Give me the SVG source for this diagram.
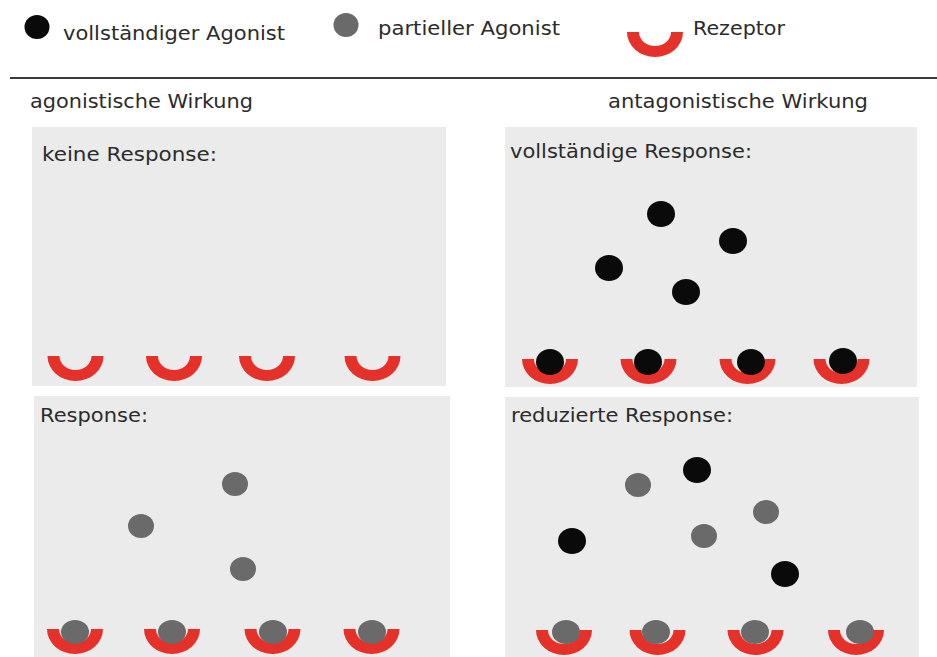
<svg xmlns="http://www.w3.org/2000/svg" xmlns:xlink="http://www.w3.org/1999/xlink" width="937" height="657" viewBox="0 0 937 657">
<style>
  .t { font-family: "DejaVu Sans", Verdana, sans-serif; font-size: 19px; fill: #2b2b2b; }
  .panel { fill: #ebebeb; }
  .full { fill: #0a0a0a; }
  .part { fill: #6a6a6a; }
  .rez { fill: #e5312a; }
</style>
<defs>
  <path id="rezeptor" class="rez" d="M -28 0 A 28 25 0 0 0 28 0 L 16 0 A 16 14 0 0 1 -16 0 Z"/>
</defs>
<rect width="937" height="657" fill="#ffffff"/>

<g id="legende">
  <g id="legende-voll">
    <ellipse class="full" cx="37" cy="27" rx="12.5" ry="12"/>
    <text class="t" x="63" y="40" textLength="222" lengthAdjust="spacingAndGlyphs">vollständiger Agonist</text>
  </g>
  <g id="legende-partiell">
    <ellipse class="part" cx="346" cy="25" rx="12.5" ry="12"/>
    <text class="t" x="378" y="35" textLength="182" lengthAdjust="spacingAndGlyphs">partieller Agonist</text>
  </g>
  <g id="legende-rezeptor">
    <use xlink:href="#rezeptor" href="#rezeptor" x="655" y="32"/>
    <text class="t" x="693" y="35" textLength="92" lengthAdjust="spacingAndGlyphs">Rezeptor</text>
  </g>
</g>

<line x1="10" y1="78" x2="937" y2="78" stroke="#3a3a3a" stroke-width="2"/>

<text class="t" x="30" y="108" textLength="223" lengthAdjust="spacingAndGlyphs">agonistische Wirkung</text>
<text class="t" x="608" y="108" textLength="260" lengthAdjust="spacingAndGlyphs">antagonistische Wirkung</text>

<g id="panel-keine-response">
  <rect class="panel" x="32" y="127" width="414" height="259"/>
  <text class="t" x="42" y="161" textLength="175" lengthAdjust="spacingAndGlyphs">keine Response:</text>
  <use href="#rezeptor" x="75.5" y="356"/>
  <use href="#rezeptor" x="174" y="356"/>
  <use href="#rezeptor" x="267" y="356"/>
  <use href="#rezeptor" x="372.5" y="356"/>
</g>

<g id="panel-vollstaendige-response">
  <rect class="panel" x="505" y="127" width="412" height="260"/>
  <text class="t" x="510" y="158" textLength="242" lengthAdjust="spacingAndGlyphs">vollständige Response:</text>
  <ellipse class="full" cx="661" cy="214" rx="14" ry="13"/>
  <ellipse class="full" cx="733" cy="241" rx="14" ry="13"/>
  <ellipse class="full" cx="609" cy="268" rx="14" ry="13"/>
  <ellipse class="full" cx="686" cy="292" rx="14" ry="13"/>
  <use href="#rezeptor" x="550" y="359"/>
  <use href="#rezeptor" x="648.5" y="359"/>
  <use href="#rezeptor" x="747.5" y="359"/>
  <use href="#rezeptor" x="841.5" y="359"/>
  <ellipse class="full" cx="550" cy="362" rx="14" ry="13"/>
  <ellipse class="full" cx="648" cy="362" rx="14" ry="13"/>
  <ellipse class="full" cx="751" cy="362" rx="14" ry="13"/>
  <ellipse class="full" cx="843" cy="361" rx="14" ry="13"/>
</g>

<g id="panel-response">
  <rect class="panel" x="34" y="396" width="416" height="261"/>
  <text class="t" x="40" y="422" textLength="108" lengthAdjust="spacingAndGlyphs">Response:</text>
  <ellipse class="part" cx="235" cy="484" rx="13" ry="12"/>
  <ellipse class="part" cx="141" cy="526" rx="13" ry="12"/>
  <ellipse class="part" cx="243" cy="569" rx="13" ry="12"/>
  <use href="#rezeptor" x="75" y="629"/>
  <use href="#rezeptor" x="172" y="629"/>
  <use href="#rezeptor" x="272.5" y="629"/>
  <use href="#rezeptor" x="371.5" y="629"/>
  <ellipse class="part" cx="75" cy="632" rx="14" ry="12"/>
  <ellipse class="part" cx="172" cy="632" rx="14" ry="12"/>
  <ellipse class="part" cx="273" cy="632" rx="14" ry="12"/>
  <ellipse class="part" cx="372" cy="632" rx="14" ry="12"/>
</g>

<g id="panel-reduzierte-response">
  <rect class="panel" x="505" y="397" width="414" height="260"/>
  <text class="t" x="511" y="422" textLength="222" lengthAdjust="spacingAndGlyphs">reduzierte Response:</text>
  <ellipse class="part" cx="638" cy="485" rx="13" ry="12"/>
  <ellipse class="full" cx="697" cy="470" rx="14" ry="13"/>
  <ellipse class="part" cx="766" cy="512" rx="13" ry="12"/>
  <ellipse class="part" cx="704" cy="536" rx="13" ry="12"/>
  <ellipse class="full" cx="572" cy="541" rx="14" ry="13"/>
  <ellipse class="full" cx="785" cy="574" rx="14" ry="13"/>
  <use href="#rezeptor" x="564" y="630"/>
  <use href="#rezeptor" x="657.5" y="630"/>
  <use href="#rezeptor" x="755.5" y="630"/>
  <use href="#rezeptor" x="856" y="630"/>
  <ellipse class="part" cx="566" cy="632" rx="14" ry="12"/>
  <ellipse class="part" cx="656" cy="632" rx="14" ry="12"/>
  <ellipse class="part" cx="755" cy="632" rx="14" ry="12"/>
  <ellipse class="part" cx="860" cy="632" rx="14" ry="12"/>
</g>
</svg>
